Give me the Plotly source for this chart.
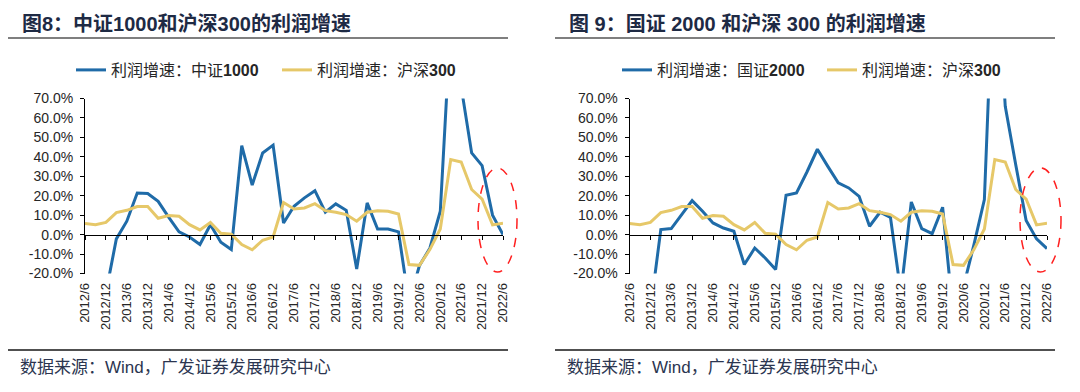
import plotly.graph_objects as go

# ---------------- data ----------------
quarters = ["2012/6", "2012/9", "2012/12", "2013/3", "2013/6", "2013/9", "2013/12",
            "2014/3", "2014/6", "2014/9", "2014/12", "2015/3", "2015/6", "2015/9", "2015/12",
            "2016/3", "2016/6", "2016/9", "2016/12", "2017/3", "2017/6", "2017/9", "2017/12",
            "2018/3", "2018/6", "2018/9", "2018/12", "2019/3", "2019/6", "2019/9", "2019/12",
            "2020/3", "2020/6", "2020/9", "2020/12", "2021/3", "2021/6", "2021/9", "2021/12",
            "2022/3", "2022/6"]
tick_labels = ["2012/6", "2012/12", "2013/6", "2013/12", "2014/6", "2014/12", "2015/6",
               "2015/12", "2016/6", "2016/12", "2017/6", "2017/12", "2018/6", "2018/12",
               "2019/6", "2019/12", "2020/6", "2020/12", "2021/6", "2021/12", "2022/6"]

# profit growth, %
csi1000 = [None, None, -30, -2.2, 6.9, 21.4, 21.1, 17.1, 9.0, 1.4, -1.2, -5.1, 5.1, -3.9,
           -7.7, 45.8, 25.5, 42.0, 46.0, 6.0, 14.6, 18.9, 22.6, 11.5, 15.8, 12.5, -17.7,
           16.3, 2.9, 2.9, 1.4, -35.0, -16.0, -7.0, 12.0, 110.0, 76.0, 42.0, 35.5, 10.0, 0.0]
csi2000 = [None, None, -39, 2.6, 3.1, 10.0, 17.5, 12.0, 6.0, 3.4, 1.7, -15.4, -6.9, -12.0,
           -18.0, 20.2, 21.4, 32.2, 43.9, 35.1, 26.6, 24.0, 19.7, 4.3, 11.5, 8.9, -30.0,
           16.8, 3.1, 0.5, 14.1, -41.0, -26.7, -5.2, 18.0, 155.0, 66.0, 36.0, 7.3, -2.2, -7.2]
hs300 = [5.7, 5.1, 6.3, 11.3, 12.5, 14.4, 14.4, 8.4, 9.8, 9.4, 5.1, 2.4, 6.2, 0.7, 0.2,
         -5.1, -7.8, -2.9, -1.2, 16.5, 13.2, 13.7, 15.9, 12.3, 11.5, 10.3, 6.9, 11.5, 12.3,
         12.0, 10.6, -15.4, -15.8, -7.7, 2.9, 38.6, 37.3, 23.2, 18.3, 5.0, 5.8]

y_ticks = [-20, -10, 0, 10, 20, 30, 40, 50, 60, 70]

titles = ["图8：中证1000和沪深300的利润增速", "图 9：国证 2000 和沪深 300 的利润增速"]
legend_names = [["利润增速：中证<b>1000</b>", "利润增速：沪深<b>300</b>"],
                ["利润增速：国证<b>2000</b>", "利润增速：沪深<b>300</b>"]]
source = "数据来源：Wind，广发证券发展研究中心"

# ---------------- style ----------------
PAGE_W, PAGE_H = 1080, 392
OFF = 8                      # default page body margin of the html page
W, H = PAGE_W - OFF, PAGE_H - OFF
BLUE = "#1F6BA8"
GOLD = "#E6C869"
FONT = "Liberation Sans, Arial, Noto Sans CJK SC"
TXT = "#262626"
NAVY = "#1E2A44"

x_idx = list(range(len(quarters)))
tick_idx = [quarters.index(t) for t in tick_labels]


def px_x(p):
    return (p - OFF) / W


def px_y(p):
    return (H - (p - OFF)) / H


ydom = [px_y(273.5), px_y(98.5)]
ymin, ymax = min(y_ticks), max(y_ticks)
zero_pos = ydom[0] + (0 - ymin) / (ymax - ymin) * (ydom[1] - ydom[0])

panels = [
    dict(xdom=[px_x(85), px_x(503)], series=csi1000, xa="x", ya="y", xo="x3",
         leg=("legend", "legend2"), legx=(71, 277)),
    dict(xdom=[px_x(629.5), px_x(1047)], series=csi2000, xa="x2", ya="y2", xo="x4",
         leg=("legend3", "legend4"), legx=(617, 822)),
]

fig = go.Figure()
layout = dict(template="none", width=W, height=H, margin=dict(l=0, r=0, t=0, b=0),
              paper_bgcolor="white", plot_bgcolor="white", showlegend=True,
              font=dict(family=FONT, size=14, color=TXT), shapes=[], annotations=[])

for k, p in enumerate(panels):
    fig.add_trace(go.Scatter(x=x_idx, y=p["series"], mode="lines", name=legend_names[k][0],
                             line=dict(color=BLUE, width=3), xaxis=p["xa"], yaxis=p["ya"],
                             legend=p["leg"][0], connectgaps=False, showlegend=True))
    fig.add_trace(go.Scatter(x=x_idx, y=hs300, mode="lines", name=legend_names[k][1],
                             line=dict(color=GOLD, width=3), xaxis=p["xa"], yaxis=p["ya"],
                             legend=p["leg"][1], showlegend=True))
    fig.add_trace(go.Scatter(x=[], y=[], xaxis=p["xo"], yaxis=p["ya"], showlegend=False,
                             hoverinfo="skip"))
    xs = "" if k == 0 else "2"
    xo = p["xo"].replace("x", "")
    layout["xaxis" + xs] = dict(domain=p["xdom"], range=[0, len(quarters) - 1], anchor=p["ya"],
                                tickmode="array", tickvals=tick_idx, ticktext=tick_labels,
                                tickangle=-90, ticks="", showline=False, showgrid=False,
                                zeroline=False, ticklabelstandoff=6, automargin=False,
                                tickfont=dict(family=FONT, size=13, color=TXT))
    layout["xaxis" + xo] = dict(domain=p["xdom"], range=[0, len(quarters) - 1],
                                overlaying=p["xa"], anchor="free", position=zero_pos,
                                tickmode="array", tickvals=tick_idx, showticklabels=False,
                                ticks="outside", ticklen=4, tickcolor="black", tickwidth=1,
                                showline=True, linecolor="black", linewidth=1,
                                showgrid=False, zeroline=False, automargin=False)
    layout["yaxis" + xs] = dict(domain=ydom, range=[ymin, ymax], anchor=p["xa"],
                                tickmode="array", tickvals=y_ticks,
                                ticktext=[f"{v:.1f}%" for v in y_ticks],
                                ticks="outside", ticklen=4, tickcolor="black", tickwidth=1,
                                showline=True, linecolor="black", linewidth=1,
                                showgrid=False, zeroline=False, ticklabelstandoff=4,
                                automargin=False,
                                tickfont=dict(family=FONT, size=14, color=TXT))
    for j in range(2):
        layout[p["leg"][j]] = dict(x=px_x(p["legx"][j]), y=px_y(70), xanchor="left",
                                   yanchor="middle", orientation="h", bgcolor="rgba(0,0,0,0)",
                                   font=dict(family=FONT, size=16, color=TXT),
                                   itemwidth=30)

# titles
for k, (tx, lx0, lx1) in enumerate([(20, 8, 508), (567, 555, 1055)]):
    layout["annotations"].append(dict(text="<b>" + titles[k] + "</b>", xref="paper",
                                      yref="paper", x=px_x(tx), y=px_y(24), xanchor="left",
                                      yanchor="middle", showarrow=False,
                                      font=dict(family=FONT, size=20, color=NAVY)))
    layout["annotations"].append(dict(text=source, xref="paper", yref="paper",
                                      x=px_x(tx - 2), y=px_y(367), xanchor="left",
                                      yanchor="middle", showarrow=False,
                                      font=dict(family=FONT, size=17, color="#2B3550")))
    layout["shapes"].append(dict(type="line", xref="paper", yref="paper", x0=px_x(lx0),
                                 x1=px_x(lx1), y0=px_y(38), y1=px_y(38),
                                 line=dict(color="black", width=1.2)))
    layout["shapes"].append(dict(type="line", xref="paper", yref="paper", x0=px_x(lx0),
                                 x1=px_x(lx1), y0=px_y(350), y1=px_y(350),
                                 line=dict(color="#505050", width=2)))

# dashed highlight ellipses
for (ex0, ex1) in [(478, 517), (1020, 1061)]:
    layout["shapes"].append(dict(type="circle", xref="paper", yref="paper",
                                 x0=px_x(ex0), x1=px_x(ex1), y0=px_y(272), y1=px_y(168),
                                 line=dict(color="#FF2020", width=1.5, dash="dash")))

fig.update_layout(**layout)
fig.write_html("out.html")
